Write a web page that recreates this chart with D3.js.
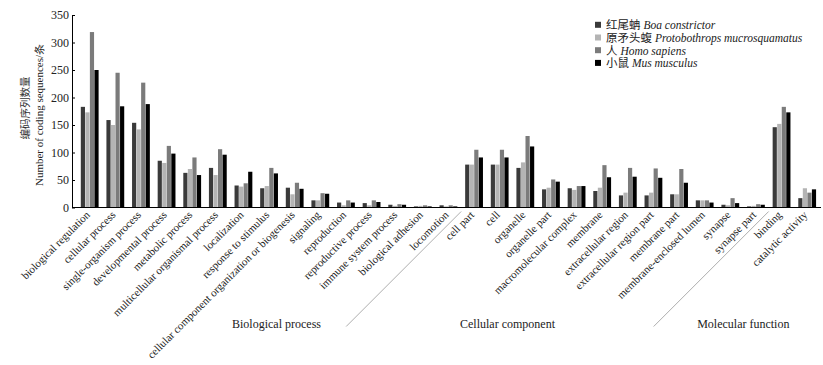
<!DOCTYPE html>
<html>
<head>
<meta charset="utf-8">
<script src="https://cdn.jsdelivr.net/npm/d3@7"></script>
<style>
  body { margin: 0; background: #fff; }
  text { font-family: "Liberation Serif", "Times New Roman", serif; fill: #222; }
</style>
</head>
<body>
<div id="chart"></div>
<script>
// categories (GO terms), grouped by GO domain
const categories = [
  "biological regulation", "cellular process", "single-organism process", "developmental process",
  "metabolic process", "multicellular organismal process", "localization", "response to stimulus",
  "cellular component organization or biogenesis", "signaling", "reproduction", "reproductive process",
  "immune system process", "biological adhesion", "locomotion",
  "cell part", "cell", "organelle", "organelle part", "macromolecular complex", "membrane",
  "extracellular region", "extracellular region part", "membrane part", "membrane-enclosed lumen",
  "synapse", "synapse part",
  "binding", "catalytic activity"
];
const domains = ["Biological process", "Cellular component", "Molecular function"];
const domainFirst = ["biological regulation", "cell part", "binding"];

const seriesCn = ["红尾蚺", "原矛头蝮", "人", "小鼠"];
const seriesLatin = ["Boa constrictor", "Protobothrops mucrosquamatus", "Homo sapiens", "Mus musculus"];

// number of coding sequences per species
const boa = [183, 159, 154, 85, 63, 72, 40, 35, 36, 13, 9, 8, 5, 2, 4,
             78, 78, 72, 33, 35, 30, 22, 22, 24, 13, 5, 2, 146, 17];
const proto = [173, 150, 142, 81, 70, 59, 38, 39, 24, 13, 4, 4, 3, 3, 2,
               78, 78, 82, 36, 32, 36, 27, 27, 24, 13, 4, 3, 152, 35];
const human = [319, 245, 227, 112, 91, 106, 44, 72, 45, 26, 13, 13, 6, 4, 4,
               105, 105, 130, 51, 39, 77, 72, 71, 70, 13, 17, 6, 183, 27];
const mouse = [250, 184, 188, 98, 59, 96, 65, 62, 34, 25, 9, 10, 5, 2, 2,
               91, 91, 111, 47, 39, 55, 56, 54, 45, 9, 8, 5, 173, 33];
const seriesValues = [boa, proto, human, mouse];

const yTicks = [0, 50, 100, 150, 200, 250, 300, 350];
const colors = ["#3a3a3a", "#b4b4b4", "#7b7b7b", "#000000"];

const width = 823, height = 365;

const svg = d3.select("#chart").append("svg")
  .attr("width", width)
  .attr("height", height);

const x = d3.scaleBand()
  .domain(categories)
  .range([76.8, 819.9])
  .padding(0);

const x1 = d3.scaleBand()
  .domain(d3.range(4))
  .range([4, 21.8])
  .paddingInner(0.08);

const y = d3.scaleLinear()
  .domain([0, 350])
  .range([207.5, 15]);

// bars
const groups = svg.append("g")
  .selectAll("g")
  .data(categories)
  .join("g")
  .attr("transform", d => `translate(${x(d)},0)`);

groups.selectAll("rect")
  .data((d, i) => seriesValues.map((s, k) => ({ k: k, v: s[i] })))
  .join("rect")
  .attr("x", d => x1(d.k))
  .attr("width", x1.bandwidth())
  .attr("y", d => y(d.v))
  .attr("height", d => y(0) - y(d.v))
  .attr("fill", d => colors[d.k]);

// y axis, ticks pointing inward
const yAxis = svg.append("g")
  .attr("transform", "translate(72,0)")
  .call(d3.axisLeft(y).tickValues(yTicks).tickSize(-3).tickSizeOuter(0).tickPadding(3));
yAxis.select(".domain").attr("stroke", "#000");
yAxis.selectAll(".tick line").attr("stroke", "#000");
yAxis.selectAll("text")
  .style("font-family", "Liberation Serif, serif")
  .style("font-size", "12px")
  .style("fill", "#222");

// x axis: plain line plus rotated labels
svg.append("line")
  .attr("x1", 72).attr("x2", 821)
  .attr("y1", y(0)).attr("y2", y(0))
  .attr("stroke", "#000");

const xAxis = svg.append("g")
  .attr("transform", `translate(0,${y(0)})`)
  .call(d3.axisBottom(x).tickSize(0));
xAxis.select(".domain").remove();
xAxis.selectAll("text")
  .attr("y", 0)
  .attr("dy", 0)
  .attr("text-anchor", "end")
  .attr("transform", "translate(1,8) rotate(-45)")
  .style("font-family", "Liberation Serif, serif")
  .style("font-size", "11px")
  .style("fill", "#222");

// separators between GO domains
svg.append("g")
  .selectAll("line")
  .data(domainFirst.slice(1))
  .join("line")
  .attr("x1", d => x(d))
  .attr("y1", y(0) + 4)
  .attr("x2", d => x(d) - 115)
  .attr("y2", y(0) + 119)
  .attr("stroke", "#999")
  .attr("stroke-width", 0.8);

// domain labels
const domainX = [276.5, 507.5, 743.3];
svg.append("g")
  .selectAll("text")
  .data(domains)
  .join("text")
  .attr("x", (d, i) => domainX[i])
  .attr("y", 328)
  .attr("text-anchor", "middle")
  .style("font-size", "12px")
  .text(d => d);

// y title
svg.append("text")
  .attr("transform", "translate(29,108) rotate(-90)")
  .attr("text-anchor", "middle")
  .style("font-family", "Noto Sans CJK SC, sans-serif")
  .style("font-size", "10.5px")
  .style("fill", "#333")
  .text("编码序列数量");
svg.append("text")
  .attr("transform", "translate(42.5,115) rotate(-90)")
  .attr("text-anchor", "middle")
  .style("font-size", "11px")
  .text("Number of coding sequences/条");

// legend
const legend = svg.append("g")
  .selectAll("g")
  .data(seriesCn)
  .join("g")
  .attr("transform", (d, i) => `translate(595,${24.8 + i * 12.7})`);
legend.append("rect")
  .attr("x", 0).attr("y", -3)
  .attr("width", 6).attr("height", 6)
  .attr("fill", (d, i) => colors[i]);
const lt = legend.append("text")
  .attr("x", 11)
  .attr("dy", "0.38em")
  .style("font-family", "Liberation Serif, Noto Sans CJK SC, serif")
  .style("font-size", "11.5px");
lt.append("tspan")
  .text(d => d);
lt.append("tspan")
  .style("font-style", "italic")
  .text((d, i) => " " + seriesLatin[i]);
</script>
</body>
</html>
